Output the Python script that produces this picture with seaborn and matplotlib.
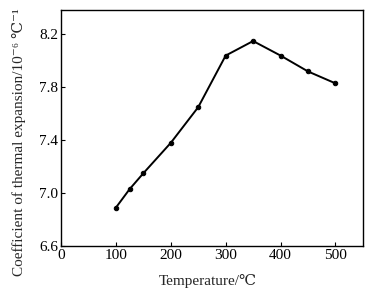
import matplotlib
matplotlib.use("Agg")
import matplotlib.pyplot as plt
import seaborn as sns
import pandas as pd

temperature = [100, 125, 150, 200, 250, 300, 350, 400, 450, 500]
cte = [6.89, 7.03, 7.15, 7.38, 7.65, 8.04, 8.15, 8.04, 7.92, 7.83]
x_ticks = [0, 100, 200, 300, 400, 500]
y_ticks = [6.6, 7.0, 7.4, 7.8, 8.2]

sns.set_style("ticks")
plt.rcParams['font.family'] = ['Liberation Serif', 'DejaVu Serif', 'Noto Sans CJK SC']

df = pd.DataFrame({"T": temperature, "C": cte})

fig = plt.figure(figsize=(3.8, 2.93), dpi=100)
ax = fig.add_axes([0.1605, 0.1604, 0.7945, 0.8056])
sns.lineplot(data=df, x="T", y="C", ax=ax, color="black", linewidth=1.4,
             marker="o", markersize=3.2, markeredgecolor="black")
ax.set_xlim(0, 550)
ax.set_ylim(6.6, 8.385)
ax.set_xticks(x_ticks)
ax.set_yticks(y_ticks)
ax.set_yticklabels([f"{v:.1f}" for v in y_ticks])
ax.tick_params(direction="in", length=3, labelsize=11, colors="black", pad=2)
for s in ax.spines.values():
    s.set_linewidth(1.0)
    s.set_color("black")
ax.set_xlabel("Temperature/℃", fontsize=11)
ax.set_ylabel("Coefficient of thermal expansion/10⁻⁶ ℃⁻¹", fontsize=11)
ax.xaxis.set_label_coords(0.487, -0.148, transform=ax.transAxes)
ax.yaxis.set_label_coords(-0.14, 0.44, transform=ax.transAxes)
ax.xaxis.label.set_va("center")
ax.yaxis.label.set_va("center")
fig.savefig("out.png", dpi=100)
